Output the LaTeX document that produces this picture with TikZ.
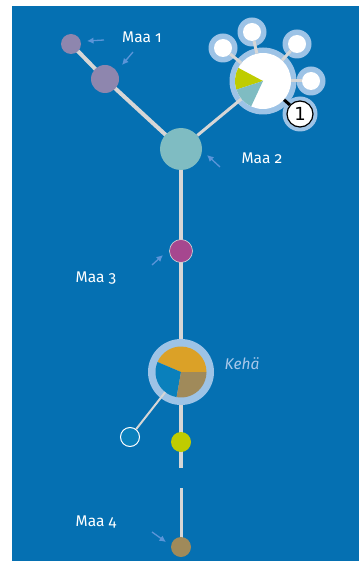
\documentclass[tikz,border=0pt]{standalone}
\usepackage{fontspec}
\setmainfont{Fira Sans}[Numbers=OldStyle]
\newfontfamily\digitfont{DejaVu Sans}
\usetikzlibrary{arrows.meta,backgrounds}

\definecolor{sea}{HTML}{0570B2}
\definecolor{halo}{HTML}{9DC3E6}
\definecolor{linkgrey}{HTML}{D6D6D6}
\definecolor{lilac}{HTML}{8E86AE}
\definecolor{teal}{HTML}{7FBCC2}
\definecolor{plum}{HTML}{A6478F}
\definecolor{amber}{HTML}{DBA127}
\definecolor{khaki}{HTML}{A08A5A}
\definecolor{azure}{HTML}{0A80BC}
\definecolor{lime}{HTML}{BFCC00}
\definecolor{pointer}{HTML}{5B95D9}
\definecolor{paleblue}{HTML}{A9C8EA}

\begin{document}
\begin{tikzpicture}[x=1pt,y=-1pt,
  dot/.style={circle,inner sep=0pt,draw=none,minimum size=#1},
  link/.style={draw=linkgrey,line width=4pt},
  thinlink/.style={draw=linkgrey,line width=3pt},
  ptr/.style={draw=pointer,line width=1.3pt,-{Latex[length=6.5pt,width=6.5pt]}},
  lbl/.style={text=white,font=\fontsize{15.5}{17}\selectfont}]

\useasboundingbox (0,0) rectangle (359,561);

% ---- nodes ----
\node[dot=20pt,fill=lilac] (m1a) at (71,44) {};
\node[dot=28pt,fill=lilac] (m1b) at (105,79) {};
\node[dot=42pt,fill=teal] (m2) at (181,149) {};
\node[dot=23pt,fill=plum,draw=linkgrey,line width=0.6pt] (m3) at (181,251) {};
\node[dot=66pt,fill=halo] (kring) at (181,372) {};
\node[dot=51pt] (kpie) at (181,372) {};
\node[dot=19pt,fill=azure,draw=white,line width=1pt] (sb) at (130,437) {};
\node[dot=20pt,fill=lime] (yel) at (181,442) {};
\node[dot=20pt,fill=khaki] (m4) at (181,547) {};
\coordinate (gapA) at (181,468);
\coordinate (gapB) at (181,488);

% hub with satellites
\node[dot=67pt,fill=halo] (hring) at (263,81) {};
\foreach \n/\p in {s1/{(223,48)},s2/{(252,32)},s3/{(297,44)},s4/{(311,81)}}{
  \node[dot=29pt,fill=halo] (\n r) at \p {};
}
\node[dot=35pt,fill=halo] (oner) at (300,114) {};
\node[dot=56pt,fill=white] (hub) at (263,81) {};
\foreach \n/\p in {s1/{(223,48)},s2/{(252,32)},s3/{(297,44)},s4/{(311,81)}}{
  \node[dot=18pt,fill=white] (\n) at \p {};
}
\node[dot=26pt,fill=white,draw=black,line width=1.2pt,
      font=\digitfont\fontsize{18}{18}\selectfont] (one) at (300,114) {1};

% pie slices of the hub
\fill[lime] (hub.center) -- ++(-152:28) arc[start angle=-152,end angle=-198,radius=28] -- cycle;
\fill[teal] (hub.center) -- ++(-198:28) arc[start angle=-198,end angle=-245,radius=28] -- cycle;

% pie slices of the ring node
\fill[amber] (kpie.center) -- ++(0:25.5) arc[start angle=0,end angle=-157,radius=25.5] -- cycle;
\fill[azure] (kpie.center) -- ++(-157:25.5) arc[start angle=-157,end angle=-260,radius=25.5] -- cycle;
\fill[khaki] (kpie.center) -- ++(-260:25.5) arc[start angle=-260,end angle=-360,radius=25.5] -- cycle;

% ---- connectors ----
\begin{scope}[on background layer]
  \fill[sea] (12,6) rectangle (359,561);
  \draw[link] (m1a.center) -- (m1b.center) -- (m2.center);
  \draw[link] (m2.center) -- (m3.center) -- (kring.center) -- (yel.center) -- (gapA);
  \draw[thinlink] (gapB) -- (m4.center);
\end{scope}
\draw[thinlink] (m2) -- (hub);
\foreach \n in {s1,s2,s3,s4}{ \draw[thinlink] (hub) -- (\n); }
\draw[draw=black,line width=3pt] (hub) -- (one);
\draw[draw=linkgrey,line width=2pt] (kpie) -- (sb);

% ---- labels and pointers ----
\node[lbl] (t1) at (142,37) {Maa 1};
\node[lbl] (t2) at (262,158) {Maa 2};
\node[lbl] (t3) at (96,278) {Maa 3};
\node[lbl] (t4) at (96,522) {Maa 4};
\node[text=paleblue,font=\fontsize{15.5}{17}\selectfont\itshape] (keha) at (242,364) {Kehä};

\coordinate (p1a) at (104,40); \coordinate (p1b) at (87,41);
\coordinate (p2a) at (133,52); \coordinate (p2b) at (122,65);
\coordinate (p3a) at (220,167); \coordinate (p3b) at (207,155);
\coordinate (p4a) at (152,265); \coordinate (p4b) at (163,255);
\coordinate (p5a) at (152,532); \coordinate (p5b) at (166,542);
\draw[ptr] (p1a) -- (p1b);
\draw[ptr] (p2a) -- (p2b);
\draw[ptr] (p3a) -- (p3b);
\draw[ptr] (p4a) -- (p4b);
\draw[ptr] (p5a) -- (p5b);
\end{tikzpicture}
\end{document}
